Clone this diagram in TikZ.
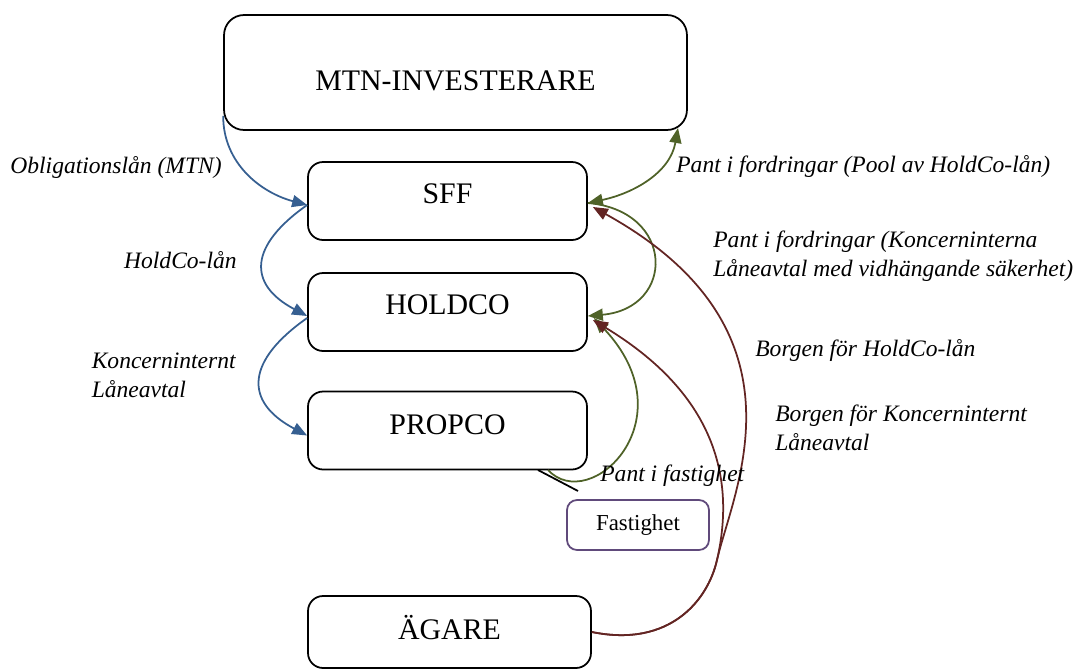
\documentclass[tikz,border=0pt]{standalone}
\usepackage{fontspec}
\setmainfont{Liberation Serif}
\usetikzlibrary{arrows.meta}
\definecolor{pilblue}{RGB}{54,95,145}
\definecolor{pilgreen}{RGB}{79,98,40}
\definecolor{pilred}{RGB}{99,37,35}
\definecolor{boxpurple}{RGB}{96,74,123}

\begin{document}
\begin{tikzpicture}[x=0.02cm, y=-0.02cm,
	box/.style={draw, line width=1pt, rounded corners=0.3cm, minimum width=5.58cm, minimum height=1.56cm, text depth=0.3cm, font=\fontsize{17}{20}\selectfont},
	lbl/.style={font=\fontsize{13.4}{16.5}\selectfont\itshape, align=left, inner sep=0pt},
	tip/.style={-{Triangle[length=0.3cm,width=0.24cm]}},
	bothtip/.style={{Triangle[length=0.3cm,width=0.24cm]}-{Triangle[length=0.3cm,width=0.24cm]}},
	bluearrow/.style={tip, draw=pilblue, line width=1pt},
	greenarrow/.style={tip, draw=pilgreen, line width=1pt},
	redarrow/.style={tip, draw=pilred, line width=1pt}]
		%%%%% START %%%%%
		\useasboundingbox (0,0) rectangle (1086,670);
		
		\node[box, rounded corners=0.4cm, minimum width=9.26cm, minimum height=2.3cm, text depth=0cm, text height=0.72cm] (mtn) at (455.5,72.5) {MTN-INVESTERARE};
		\node[box] (sff) at (447.5,201) {SFF};
		\node[box] (holdco) at (447.5,312) {HOLDCO};
		\node[box, text depth=0.22cm] (propco) at (447.5,430.5) {PROPCO};
		\node[box, minimum width=5.66cm, minimum height=1.44cm, text depth=0.18cm] (agare) at (449.5,632) {ÄGARE};
		\node[draw=boxpurple, line width=1pt, rounded corners=0.2cm, minimum width=2.84cm, minimum height=1cm, font=\fontsize{13}{16}\selectfont] (fastighet) at (638,525) {Fastighet};
		
		% blue loans on the left
		\draw[bluearrow] ([yshift=0.3cm]mtn.south west) to[out=-90, in=165] ([yshift=-0.08cm]sff.west);
		\draw[bluearrow] ([yshift=-0.08cm]sff.west) to[out=215, in=152, looseness=1.6] ([yshift=-0.08cm]holdco.west);
		\draw[bluearrow] ([yshift=-0.12cm]holdco.west) to[out=215, in=152, looseness=1.6] ([yshift=-0.1cm]propco.west);
		
		\node[lbl, anchor=east] (oblig) at (222,167) {Obligationslån (MTN)};
		\node[lbl, anchor=east] (hclan) at (237,260) {HoldCo-lån};
		\node[lbl, anchor=east] (koncern) at (236,375) {Koncerninternt\\Låneavtal};
		
		% green pledges on the right
		\coordinate (mtnpin) at (678,128);
		\draw[bothtip, draw=pilgreen, line width=1pt] (mtnpin) to[out=-100, in=12] ([yshift=-0.04cm]sff.east);
		\draw[greenarrow] ([yshift=-0.04cm]sff.east) to[out=-5, in=5, looseness=2] ([yshift=-0.08cm]holdco.east);
		\coordinate (propcoout) at (548,470);
		\draw[greenarrow] (propcoout) .. controls (590,515) and (690,420) .. ([xshift=0.12cm, yshift=-0.12cm]holdco.east);
		
		% line to fastighet
		\coordinate (fastend) at (578,491);
		\draw[line width=1pt] ([xshift=-0.2cm]propcoout) -- (fastend);
		
		% red guarantees from the owner
		\coordinate (redmid) at (717,560);
		\draw[redarrow] (agare.east) .. controls (670,648) and (708,600) .. (redmid)
			.. controls (733,490) and (815,330) .. ([xshift=0.1cm, yshift=-0.12cm]sff.east);
		\draw[redarrow] (agare.east) .. controls (670,648) and (708,600) .. (redmid)
			.. controls (733,490) and (725,400) .. ([xshift=0.1cm, yshift=-0.16cm]holdco.east);
		
		\node[lbl, anchor=west] (pantpool) at (676,166) {Pant i fordringar (Pool av HoldCo-lån)};
		\node[lbl, anchor=west] (pantkonc) at (713,256) {Pant i fordringar (Koncerninterna\\Låneavtal med vidhängande säkerhet)};
		\node[lbl, anchor=west] (borgenhc) at (755,350) {Borgen för HoldCo-lån};
		\node[lbl, anchor=west] (borgenkonc) at (775,428) {Borgen för Koncerninternt\\Låneavtal};
		\node[lbl, anchor=west] (pantfast) at (600,476) {Pant i fastighet};
		%%%%% END %%%%%
\end{tikzpicture}
\end{document}
